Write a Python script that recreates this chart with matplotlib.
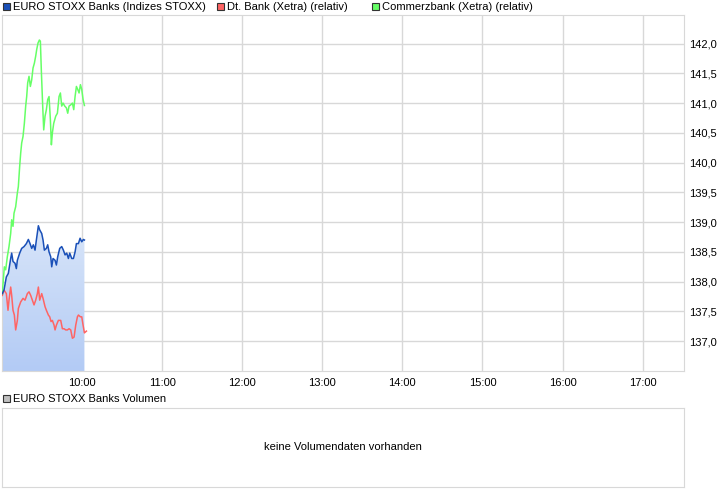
import matplotlib
matplotlib.use('Agg')
import matplotlib.pyplot as plt
import numpy as np
from matplotlib.patches import Rectangle

# minutes after 9:00 and values
blue_t = [0.25, 1.5, 3.25, 4.75, 6.5, 7.25, 8.25, 9.75, 10.75, 11.5, 13.25, 14.75, 16.5,
          18.25, 19.75, 21, 22.25, 23.5, 24.75, 25.75, 27.25, 28.25, 29.75, 30.75, 31.75,
          33.25, 34.25, 35.25, 36.5, 37.25, 38.25, 39.75, 40.75, 41.75, 43.25, 44.75, 46,
          47.25, 48.5, 49.75, 50.75, 52.25, 53.5, 54.75, 55.75, 57.25, 58.5, 59.75, 61, 61.75]
blue_v = [137.80, 137.86, 138.08, 138.14, 138.39, 138.48, 138.34, 138.31, 138.22, 138.36,
          138.48, 138.56, 138.59, 138.64, 138.71, 138.64, 138.56, 138.62, 138.53, 138.70,
          138.94, 138.87, 138.81, 138.70, 138.53, 138.56, 138.62, 138.50, 138.42, 138.25,
          138.39, 138.36, 138.28, 138.42, 138.56, 138.59, 138.53, 138.45, 138.48, 138.39,
          138.48, 138.39, 138.39, 138.50, 138.64, 138.64, 138.73, 138.67, 138.71, 138.70]

red_t = [0.25, 1.5, 3.25, 4.5, 5.25, 6.5, 7.25, 8.25, 9.25, 10.25, 11.5, 12.25, 14, 15.75,
         17.25, 19, 20.25, 21.5, 22.75, 24, 25.25, 26.5, 27.25, 28.25, 29.75, 30.75, 32.25,
         33.25, 34.75, 35.75, 36.75, 37.75, 39, 39.75, 40.75, 42.25, 44, 45.25, 46.5, 47.75,
         49, 50.25, 51.5, 52.75, 54, 55.25, 56.5, 57.25, 58.75, 59.75, 60.75, 61.75, 63.25]
red_v = [137.77, 137.86, 137.80, 137.52, 137.69, 137.91, 137.77, 137.52, 137.44, 137.19,
         137.35, 137.55, 137.66, 137.72, 137.69, 137.80, 137.83, 137.77, 137.69, 137.61,
         137.69, 137.80, 137.91, 137.69, 137.80, 137.72, 137.58, 137.52, 137.44, 137.41,
         137.33, 137.35, 137.27, 137.19, 137.27, 137.35, 137.35, 137.21, 137.21, 137.19,
         137.19, 137.21, 137.19, 137.05, 137.07, 137.27, 137.41, 137.44, 137.41, 137.41,
         137.27, 137.14, 137.17]

green_t = [0.25, 1, 1.75, 2.75, 4, 5.25, 6.5, 7.25, 8.25, 9, 10.25, 11.5, 12.25, 13.25, 14,
           14.75, 15.75, 16.75, 17.75, 18.5, 19.25, 20.25, 21.25, 22.25, 23.25, 24.25, 25.25,
           26, 27, 28, 28.75, 29.5, 30.5, 31.25, 32.25, 33.25, 34.25, 35.25, 36.25, 37, 37.75,
           38.75, 40.25, 41.5, 42.75, 43.75, 44.75, 45.75, 47, 48.25, 49.25, 50.25, 51.5,
           52.75, 53.75, 54.75, 55.75, 56.75, 57.75, 58.75, 59.75, 60.75, 61.75]
green_v = [137.80, 138.03, 138.25, 138.20, 138.42, 138.59, 138.81, 139.04, 138.93, 139.15,
           139.26, 139.49, 139.60, 139.94, 140.16, 140.33, 140.44, 140.66, 140.95, 141.11,
           141.34, 141.45, 141.28, 141.39, 141.59, 141.67, 141.79, 141.90, 142.01, 142.06,
           142.04, 141.53, 140.95, 140.55, 140.78, 140.89, 141.06, 141.11, 140.72, 140.30,
           140.50, 140.66, 140.78, 140.83, 141.11, 141.17, 140.95, 141.00, 140.95, 140.92,
           140.83, 140.95, 140.97, 141.00, 140.89, 141.11, 141.28, 141.23, 141.17, 141.31,
           141.23, 141.06, 140.96]

hour_ticks = [60, 120, 180, 240, 300, 360, 420, 480]
hour_labels = ['10:00', '11:00', '12:00', '13:00', '14:00', '15:00', '16:00', '17:00']
y_ticks = [137.0, 137.5, 138.0, 138.5, 139.0, 139.5, 140.0, 140.5, 141.0, 141.5, 142.0]

legend_items = [('EURO STOXX Banks (Indizes STOXX)', '#1a50b8'),
                ('Dt. Bank (Xetra) (relativ)', '#ff6464'),
                ('Commerzbank (Xetra) (relativ)', '#66ff66')]

plt.rcParams['font.family'] = ['Liberation Sans', 'DejaVu Sans']
grid_c = '#d8d8d8'
W, H = 726, 496

fig = plt.figure(figsize=(W / 100, H / 100), dpi=100)


def box(l, t, r, b):
    return [l / W, 1 - b / H, (r - l) / W, (b - t) / H]


ax = fig.add_axes(box(2, 15, 684, 371))
ax.set_xlim(0, 511)
ax.set_ylim(136.5, 142.48)

# gradient fill under the index line
ymin = 136.5
poly = ax.fill_between(blue_t, blue_v, ymin, color='none', lw=0)
grad = np.linspace(0, 1, 100).reshape(-1, 1)
from matplotlib.colors import LinearSegmentedColormap
cmap = LinearSegmentedColormap.from_list('g', ['#b3cbf5', '#d8e5f9'])
im = ax.imshow(grad, cmap=cmap, aspect='auto', origin='lower',
               extent=[blue_t[0], blue_t[-1], ymin, max(blue_v)], zorder=1)
im.set_clip_path(poly.get_paths()[0], transform=ax.transData)

ax.plot(blue_t, blue_v, color='#1a50b8', lw=1.1, zorder=4)
ax.plot(red_t, red_v, color='#ff6464', lw=1.1, zorder=3)
ax.plot(green_t, green_v, color='#66ff66', lw=1.1, zorder=3)

ax.set_xticks(hour_ticks)
ax.set_xticklabels(hour_labels)
ax.set_yticks(y_ticks)
ax.set_yticklabels([('%.1f' % v).replace('.', ',') for v in y_ticks])
ax.yaxis.tick_right()
ax.grid(True, color=grid_c, lw=1)
ax.set_axisbelow(True)
ax.tick_params(length=0, labelsize=8, colors='black', pad=4)
ax.tick_params(axis='x', pad=5)
for s in ax.spines.values():
    s.set_color(grid_c)

# legend row at top
xs = [3, 217, 372]
for (label, col), x0 in zip(legend_items, xs):
    fig.patches.append(Rectangle((x0 / W, 1 - 10 / H), 7 / W, 7 / H, transform=fig.transFigure,
                                 facecolor=col, edgecolor='#333333', lw=0.8))
    fig.text((x0 + 10) / W, 1 - 6.5 / H, label, fontsize=8, va='center', ha='left')

# volume panel
fig.patches.append(Rectangle((3 / W, 1 - 402 / H), 7 / W, 7 / H, transform=fig.transFigure,
                             facecolor='#c0c0c0', edgecolor='#333333', lw=0.8))
fig.text(13 / W, 1 - 398.5 / H, 'EURO STOXX Banks Volumen', fontsize=8, va='center', ha='left')

vax = fig.add_axes(box(2, 408, 684, 487))
vax.set_xticks([])
vax.set_yticks([])
for s in vax.spines.values():
    s.set_color(grid_c)
vax.text(0.5, 0.5, 'keine Volumendaten vorhanden', fontsize=8, ha='center', va='center',
         transform=vax.transAxes)

fig.savefig('out.png', dpi=100)
